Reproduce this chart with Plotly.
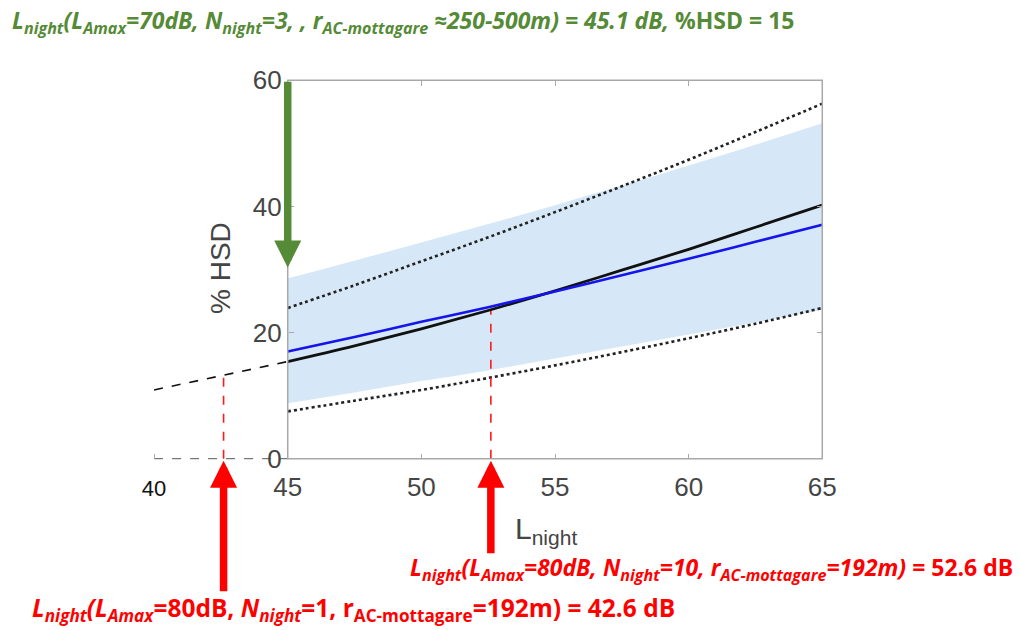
import plotly.graph_objects as go

# ---------------- data ----------------
lnight = [45, 47.5, 50, 52.5, 55, 57.5, 60, 62.5, 65]
hsd_black = [15.4, 17.9, 20.6, 23.5, 26.6, 29.9, 33.2, 36.7, 40.2]
hsd_blue = [17.0, 19.3, 21.7, 24.0, 26.5, 29.1, 31.7, 34.4, 37.1]
band_upper = [28.6, 31.4, 34.3, 37.2, 40.2, 43.3, 46.5, 49.8, 53.2]
band_lower = [8.8, 10.5, 12.3, 14.0, 15.9, 17.8, 19.7, 21.6, 23.6]
dot_upper = [23.9, 27.5, 31.3, 35.1, 39.1, 43.2, 47.4, 51.8, 56.3]
dot_lower = [7.5, 9.2, 10.9, 12.8, 14.8, 16.9, 19.1, 21.4, 23.9]

ext_x = [40, 42.6, 45]
ext_y = [10.9, 13.3, 15.4]

mark_x = [42.6, 52.6]
mark_y = [13.3, 23.6]
green_x = 45
green_y = 30.3

x_ticks = [40, 45, 50, 55, 60, 65]
y_ticks = [0, 20, 40, 60]

# ---------------- layout geometry ----------------
W, H = 1020, 630
ML, MR, MT, MB = 114, 171, 74, 165
PW, PH = W - ML - MR, H - MT - MB
XR = [38.5, 66]
YR = [-1, 61]


def px(x):
    return (x - ML) / PW


def py(y):
    return (H - MB - y) / PH


TICK_FONT = dict(family="Liberation Sans, Arial", size=26, color="#454545")
FRAME = "#a8a8a8"

fig = go.Figure()

# confidence band
fig.add_trace(go.Scatter(x=lnight, y=band_lower, mode="lines", line=dict(width=0, shape="spline"),
                         showlegend=False, hoverinfo="skip"))
fig.add_trace(go.Scatter(x=lnight, y=band_upper, mode="lines", line=dict(width=0, shape="spline"),
                         fill="tonexty", fillcolor="rgb(214,232,247)",
                         showlegend=False, hoverinfo="skip"))
# dotted bounds
for ys in (dot_upper, dot_lower):
    fig.add_trace(go.Scatter(x=lnight, y=ys, mode="lines",
                             line=dict(color="#222", width=2.6, dash="dot", shape="spline"),
                             showlegend=False))
# extrapolation (dashed)
fig.add_trace(go.Scatter(x=ext_x, y=ext_y, mode="lines",
                         line=dict(color="#111", width=1.6, dash="dash"),
                         showlegend=False))
# zero line extension
fig.add_trace(go.Scatter(x=[x_ticks[0], lnight[0]], y=[0, 0], mode="lines",
                         line=dict(color="#555", width=1, dash="dash"),
                         showlegend=False))
# red dashed verticals
for mx, my in zip(mark_x, mark_y):
    fig.add_trace(go.Scatter(x=[mx, mx], y=[0, my], mode="lines",
                             line=dict(color="#ff1a1a", width=1.6, dash="dash"),
                             showlegend=False))
# main curves
fig.add_trace(go.Scatter(x=lnight, y=hsd_black, mode="lines",
                         line=dict(color="#111", width=2.8, shape="spline"), showlegend=False))
fig.add_trace(go.Scatter(x=lnight, y=hsd_blue, mode="lines",
                         line=dict(color="rgb(20,20,235)", width=2.6, shape="spline"),
                         showlegend=False))
# dummy trace for mirror axes
fig.add_trace(go.Scatter(x=[None], y=[None], xaxis="x2", yaxis="y2",
                         showlegend=False, hoverinfo="skip"))

# frame
fig.add_shape(type="rect", xref="x", yref="y", x0=lnight[0], x1=lnight[-1],
              y0=y_ticks[0], y1=y_ticks[-1], line=dict(color=FRAME, width=1.5),
              layer="above")

x_text = ['<span style="font-size:22px;color:#111">%d</span>' % x_ticks[0]] + \
         [str(v) for v in x_ticks[1:]]

fig.update_layout(
    width=W, height=H,
    margin=dict(l=ML, r=MR, t=MT, b=MB),
    paper_bgcolor="white", plot_bgcolor="white",
    xaxis=dict(range=XR, domain=[0, 1], anchor="free",
               position=(0 - YR[0]) / (YR[1] - YR[0]),
               showline=False, showgrid=False, zeroline=False,
               tickvals=x_ticks, ticktext=x_text, ticks="inside", ticklen=5,
               tickcolor=FRAME, tickfont=TICK_FONT, ticklabelstandoff=10),
    yaxis=dict(range=YR, domain=[0, 1], anchor="free",
               position=(lnight[0] - XR[0]) / (XR[1] - XR[0]),
               showline=False, showgrid=False, zeroline=False,
               tickvals=y_ticks, ticks="inside", ticklen=5,
               tickcolor=FRAME, tickfont=TICK_FONT, ticklabelstandoff=6),
    xaxis2=dict(range=XR, overlaying="x", anchor="free", side="top",
                position=(y_ticks[-1] - YR[0]) / (YR[1] - YR[0]),
                showline=False, showgrid=False, zeroline=False,
                tickvals=x_ticks[1:], ticks="inside", ticklen=5,
                tickcolor=FRAME, showticklabels=False),
    yaxis2=dict(range=YR, overlaying="y", anchor="free", side="right",
                position=(lnight[-1] - XR[0]) / (XR[1] - XR[0]),
                showline=False, showgrid=False, zeroline=False,
                tickvals=y_ticks, ticks="inside", ticklen=5,
                tickcolor=FRAME, showticklabels=False),
)

GREEN = "#558a36"
RED = "#ff0000"
ANN_FONT = "Open Sans, Lato, sans-serif"

annotations = [
    # green arrow
    dict(x=green_x, y=green_y, xref="x", yref="y", ax=green_x, ay=y_ticks[-1],
         axref="x", ayref="y", text="", showarrow=True, arrowhead=2,
         arrowsize=0.72, arrowwidth=7.5, arrowcolor=GREEN),
    # red arrows
    dict(x=mark_x[0], y=0, xref="x", yref="y", ax=0, ay=134, text="",
         showarrow=True, arrowhead=2, arrowsize=0.72, arrowwidth=7.5,
         arrowcolor=RED, standoff=2),
    dict(x=mark_x[1], y=0, xref="x", yref="y", ax=0, ay=96, text="",
         showarrow=True, arrowhead=2, arrowsize=0.72, arrowwidth=7.5,
         arrowcolor=RED, standoff=2),
    # axis titles
    dict(x=px(220), y=py(268), xref="paper", yref="paper", text="% HSD",
         textangle=-90, showarrow=False, xanchor="center", yanchor="middle",
         font=dict(family="Liberation Sans, Arial", size=28, color="#454545")),
    dict(x=px(513), y=py(530), xref="paper", yref="paper",
         text="L<sub>night</sub>", showarrow=False, xanchor="left", yanchor="middle",
         font=dict(family="Liberation Sans, Arial", size=30, color="#454545")),
    # texts
    dict(x=px(10), y=py(22), xref="paper", yref="paper",
         text="<b><i>L<sub>night</sub>(L<sub>Amax</sub>=70dB, N<sub>night</sub>=3, , "
              "r<sub>AC-mottagare</sub> \u2248250-500m) = 45.1 dB,</i> %HSD = 15</b>",
         showarrow=False, xanchor="left", yanchor="middle",
         font=dict(family=ANN_FONT, size=23, color=GREEN)),
    dict(x=px(1015), y=py(568), xref="paper", yref="paper",
         text="<b><i>L<sub>night</sub>(L<sub>Amax</sub>=80dB, N<sub>night</sub>=10, "
              "r<sub>AC-mottagare</sub>=192m)</i> = 52.6 dB</b>",
         showarrow=False, xanchor="right", yanchor="middle",
         font=dict(family=ANN_FONT, size=23, color=RED)),
    dict(x=px(30), y=py(609), xref="paper", yref="paper",
         text="<b><i>L<sub>night</sub>(L<sub>Amax</sub></i>=80dB, <i>N<sub>night</sub></i>=1, "
              "r<sub>AC-mottagare</sub>=192m) = 42.6 dB</b>",
         showarrow=False, xanchor="left", yanchor="middle",
         font=dict(family=ANN_FONT, size=24.5, color=RED)),
]
fig.update_layout(annotations=annotations)

fig.write_html("out.html")
